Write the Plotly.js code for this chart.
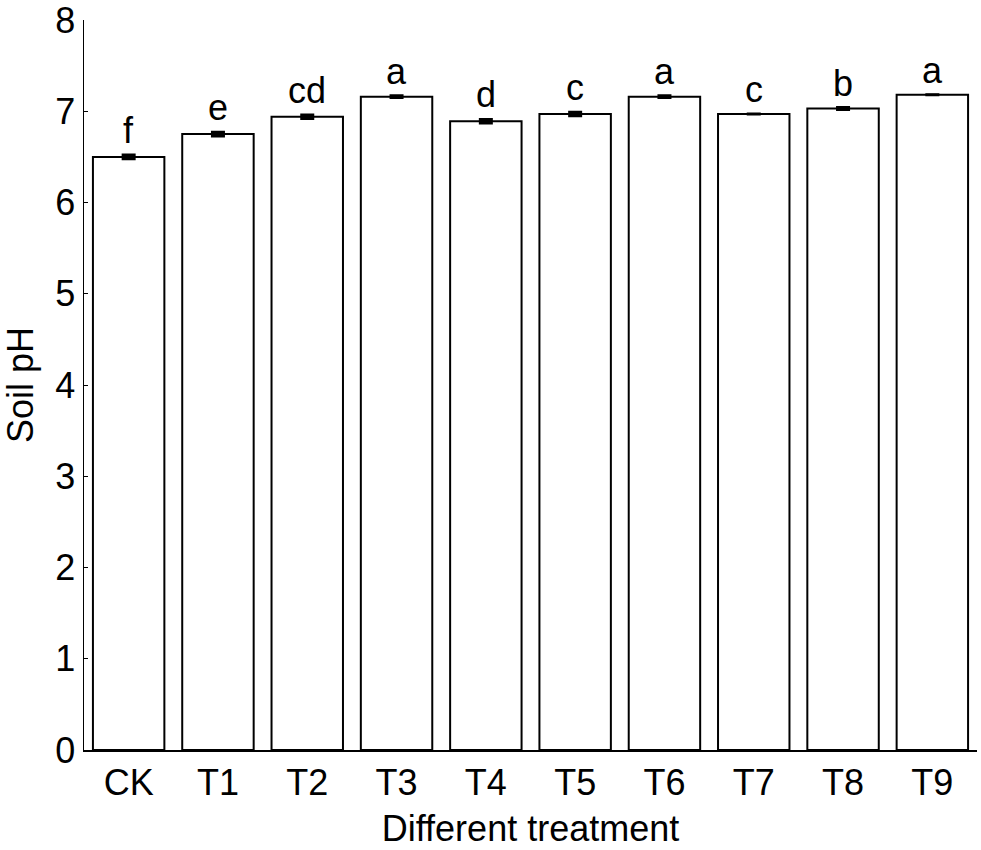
<!DOCTYPE html>
<html>
<head>
<meta charset="utf-8">
<script src="https://cdn.plot.ly/plotly-3.0.1.min.js"></script>
<style>html,body{margin:0;padding:0;background:#fff;}#chart{width:981px;height:850px;}</style>
</head>
<body>
<div id="chart"></div>
<script>
const categories = ["CK","T1","T2","T3","T4","T5","T6","T7","T8","T9"];
const soilPH = [6.50, 6.75, 6.94, 7.16, 6.89, 6.97, 7.16, 6.97, 7.03, 7.18];
const phError = [0.02, 0.02, 0.02, 0.01, 0.02, 0.02, 0.01, 0.0, 0.01, 0.0];
const sigLetters = ["f","e","cd","a","d","c","a","c","b","a"];
const yTicks = [0,1,2,3,4,5,6,7,8];

const FONT = "Liberation Sans, Arial, sans-serif";

const trace = {
  type: "bar",
  x: categories,
  y: soilPH,
  marker: {color: "#ffffff", line: {color: "#000000", width: 2}},
  error_y: {type: "data", array: phError, visible: true, color: "#000000", thickness: 3, width: 7},
  hoverinfo: "x+y"
};

const annotations = categories.map((c, i) => ({
  x: c,
  y: soilPH[i] + phError[i],
  text: sigLetters[i],
  showarrow: false,
  xanchor: "center",
  yanchor: "bottom",
  yshift: 2,
  font: {family: FONT, size: 36, color: "#000"}
}));

const layout = {
  width: 981,
  height: 850,
  margin: {l: 84, r: 4, t: 20, b: 100},
  paper_bgcolor: "#fff",
  plot_bgcolor: "#fff",
  showlegend: false,
  bargap: 0.2,
  font: {family: FONT, color: "#000"},
  xaxis: {
    type: "category",
    range: [-0.5, 9.5],
    showline: true,
    linecolor: "#000",
    linewidth: 2,
    ticks: "",
    showgrid: false,
    zeroline: false,
    tickfont: {family: FONT, size: 36, color: "#000"},
    title: {text: "Different treatment", font: {family: FONT, size: 36, color: "#000"}, standoff: 14},
    automargin: false
  },
  yaxis: {
    range: [0, 8],
    tickvals: yTicks,
    ticktext: yTicks.map(String),
    ticklabeloverflow: "allow",
    showline: true,
    linecolor: "#000",
    linewidth: 1.5,
    ticks: "inside",
    ticklen: 4,
    tickcolor: "#000",
    showgrid: false,
    zeroline: false,
    tickfont: {family: FONT, size: 36, color: "#000"},
    title: {text: "Soil pH", font: {family: FONT, size: 36, color: "#000"}, standoff: 12},
    automargin: false
  },
  annotations: annotations
};

Plotly.newPlot("chart", [trace], layout, {displayModeBar: false, staticPlot: true});
</script>
</body>
</html>
